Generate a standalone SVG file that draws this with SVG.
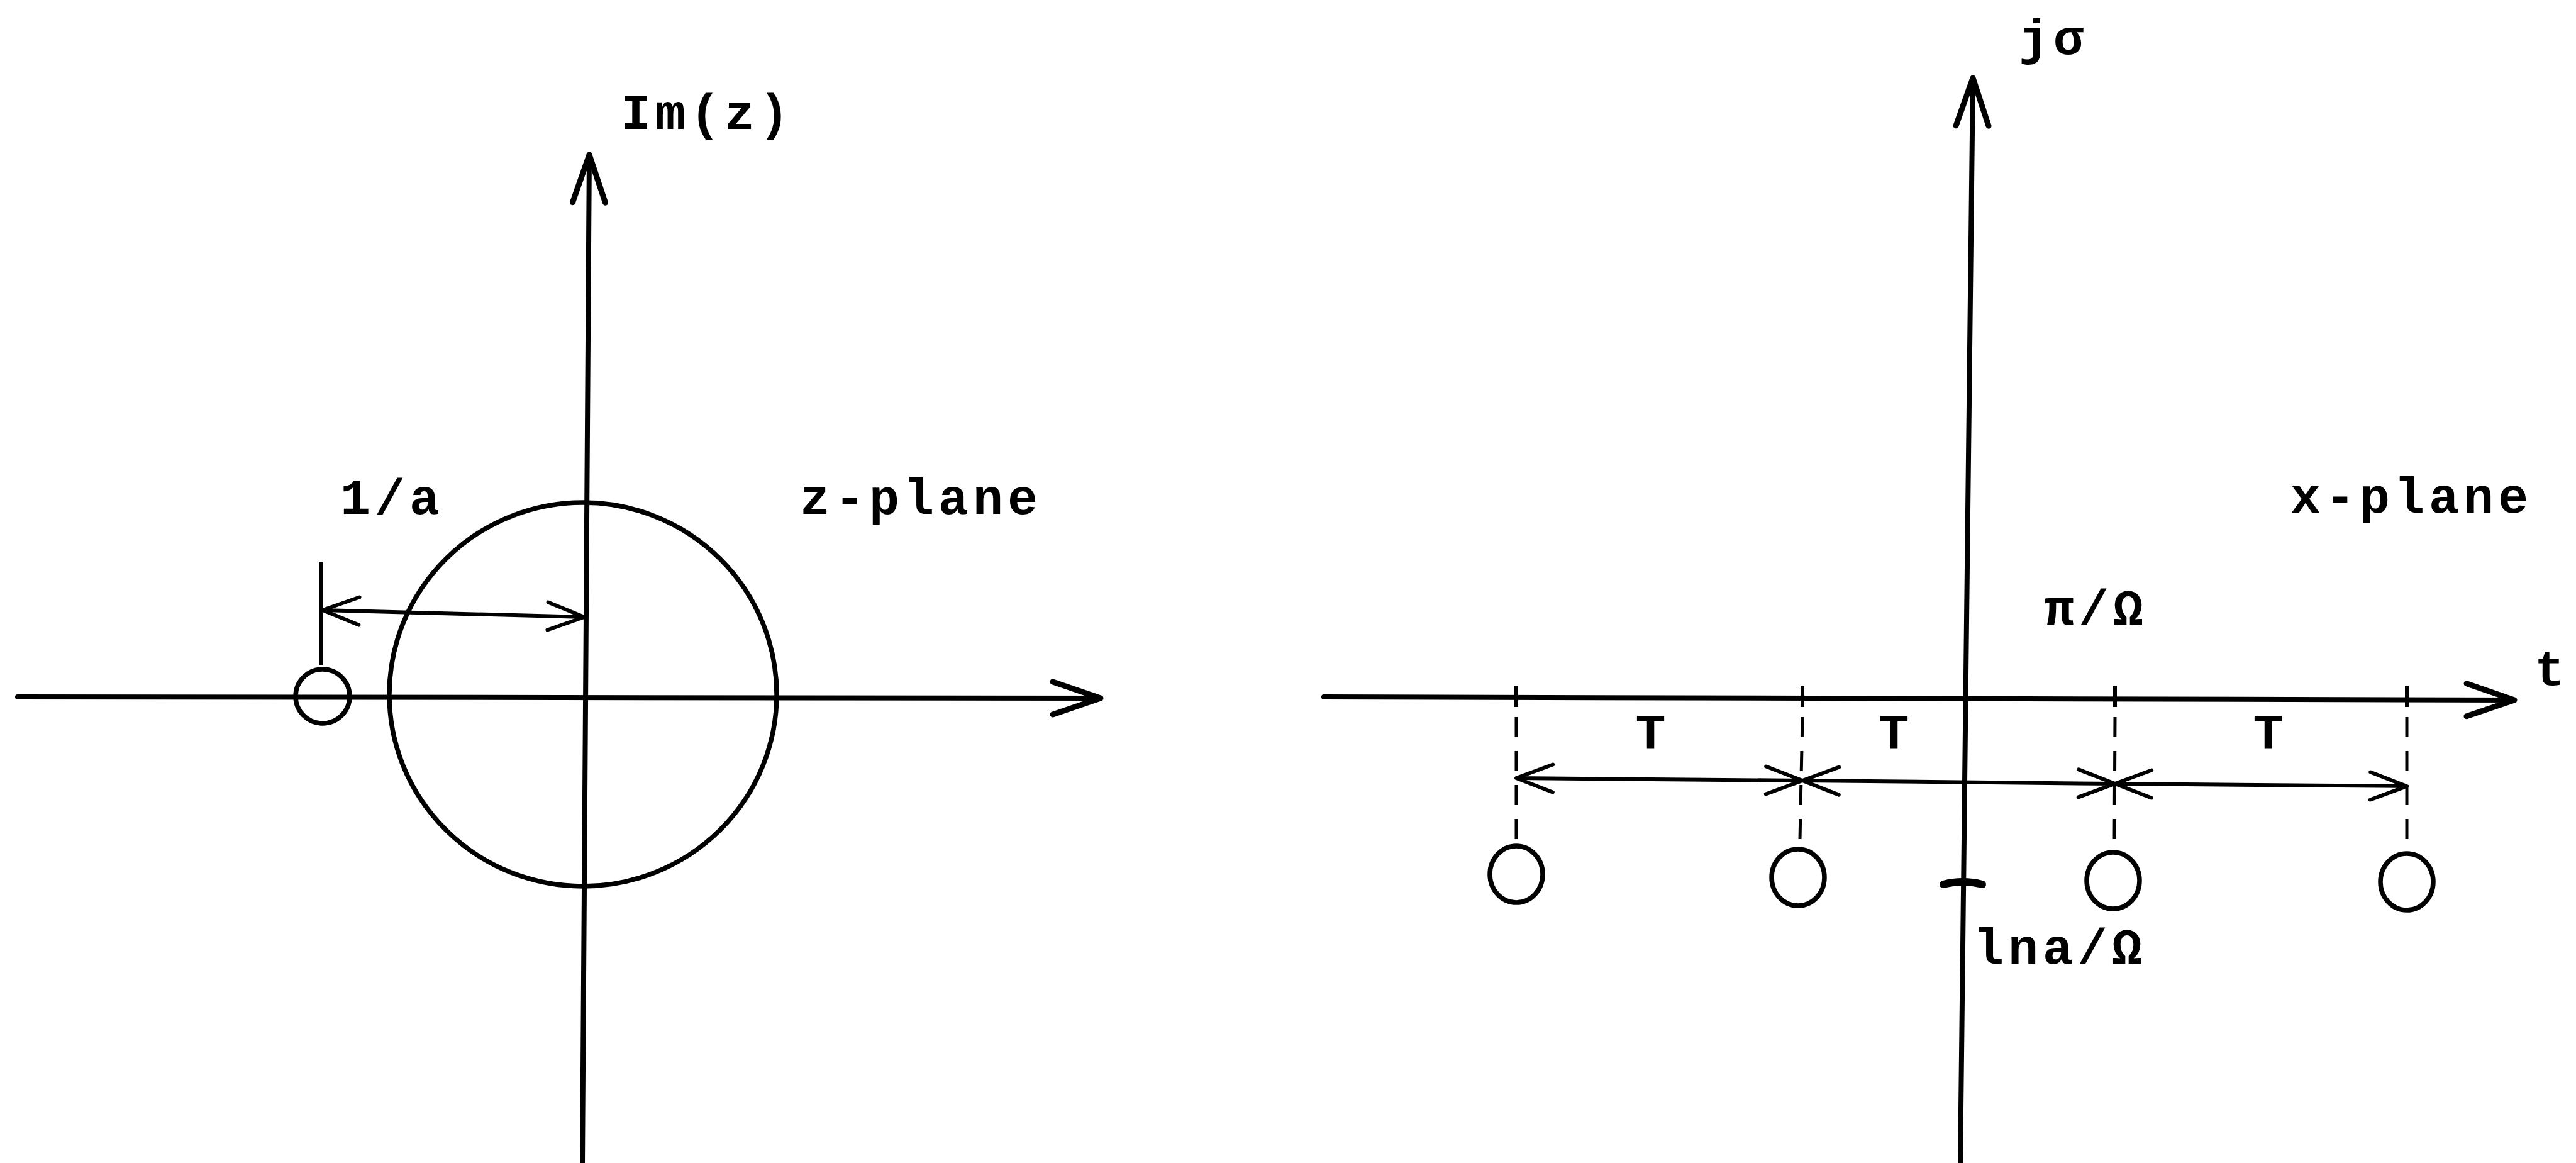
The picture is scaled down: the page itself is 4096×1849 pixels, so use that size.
<svg xmlns="http://www.w3.org/2000/svg" width="4096" height="1849" viewBox="0 0 4096 1849">
<style>
  .lbl { font-family: "Liberation Mono", "DejaVu Sans Mono", monospace; font-size: 80px; font-weight: bold; letter-spacing: 7px; fill: #000; }
  .axis { stroke: #000; stroke-width: 8; fill: none; stroke-linecap: round; }
  .dim { stroke: #000; stroke-width: 6; fill: none; }
  .dash { stroke: #000; stroke-width: 5; fill: none; stroke-dasharray: 32 22; }
  .ring { stroke: #000; stroke-width: 7.5; fill: none; }
</style>
<defs>
  <marker id="axisArrow" viewBox="-90 -40 100 80" refX="0" refY="0" markerWidth="100" markerHeight="80" markerUnits="userSpaceOnUse" orient="auto">
    <path d="M -76 -26 L 0 0 L -76 26" fill="none" stroke="#000" stroke-width="9" stroke-linecap="round" stroke-linejoin="round"/>
  </marker>
  <marker id="dimArrow" viewBox="-70 -35 80 70" refX="0" refY="0" markerWidth="80" markerHeight="70" markerUnits="userSpaceOnUse" orient="auto-start-reverse">
    <path d="M -58 -22 L 0 0 L -58 22" fill="none" stroke="#000" stroke-width="6" stroke-linecap="round" stroke-linejoin="round"/>
  </marker>
</defs>
<rect width="4096" height="1849" fill="#fff"/>

<g id="connectors">
  <!-- z-plane axes -->
  <line class="axis" x1="28" y1="1108" x2="1750" y2="1110" marker-end="url(#axisArrow)"/>
  <line class="axis" x1="926" y1="1849" x2="937" y2="246" marker-end="url(#axisArrow)"/>
  <!-- 1/a dimension -->
  <line class="dim" x1="510" y1="893" x2="510" y2="1058"/>
  <line class="dim" x1="513" y1="970" x2="929" y2="981" marker-start="url(#dimArrow)" marker-end="url(#dimArrow)"/>
  <!-- x-plane axes -->
  <line class="axis" x1="2105" y1="1108" x2="3998" y2="1113" marker-end="url(#axisArrow)"/>
  <line class="axis" x1="3117" y1="1849" x2="3137" y2="124" marker-end="url(#axisArrow)"/>
  <!-- ticks and dashed drops -->
  <line class="dim" x1="2411" y1="1090" x2="2411" y2="1124"/>
  <line class="dim" x1="2866" y1="1090" x2="2866" y2="1124"/>
  <line class="dim" x1="3363" y1="1090" x2="3363" y2="1124"/>
  <line class="dim" x1="3827" y1="1090" x2="3827" y2="1124"/>
  <line class="dash" x1="2411" y1="1140" x2="2411" y2="1335"/>
  <line class="dash" x1="2866" y1="1140" x2="2862" y2="1335"/>
  <line class="dash" x1="3363" y1="1140" x2="3362" y2="1340"/>
  <line class="dash" x1="3827" y1="1140" x2="3827" y2="1340"/>
  <!-- T dimension chain -->
  <line class="dim" x1="2411" y1="1237" x2="2866" y2="1241" marker-start="url(#dimArrow)" marker-end="url(#dimArrow)"/>
  <line class="dim" x1="2866" y1="1241" x2="3363" y2="1246" marker-start="url(#dimArrow)" marker-end="url(#dimArrow)"/>
  <line class="dim" x1="3363" y1="1246" x2="3827" y2="1250" marker-start="url(#dimArrow)" marker-end="url(#dimArrow)"/>
  <!-- ln a / Omega mark on j-sigma axis -->
  <path d="M 3090 1406 Q 3121 1398 3152 1406" stroke="#000" stroke-width="12" fill="none" stroke-linecap="round"/>
</g>

<g id="z-plane">
  <g id="unit-circle"><ellipse class="ring" cx="927" cy="1104" rx="308" ry="305"/></g>
  <g id="zero-z"><circle class="ring" cx="513" cy="1107" r="43"/></g>
  <g id="label-imz"><text class="lbl" x="987" y="205">Im(z)</text></g>
  <g id="label-1a"><text class="lbl" x="541" y="817">1/a</text></g>
  <g id="label-zplane"><text class="lbl" x="1272" y="817">z-plane</text></g>
</g>

<g id="x-plane">
  <g id="zero-1"><ellipse class="ring" cx="2411" cy="1390" rx="42" ry="45"/></g>
  <g id="zero-2"><ellipse class="ring" cx="2859" cy="1395" rx="42" ry="45"/></g>
  <g id="zero-3"><ellipse class="ring" cx="3360" cy="1400" rx="42" ry="45"/></g>
  <g id="zero-4"><ellipse class="ring" cx="3827" cy="1402" rx="42" ry="45"/></g>
  <g id="label-jsigma"><text class="lbl" x="3210" y="86">jσ</text></g>
  <g id="label-xplane"><text class="lbl" x="3642" y="815">x-plane</text></g>
  <g id="label-pi"><text class="lbl" x="3250" y="993">π/Ω</text></g>
  <g id="label-t"><text class="lbl" x="4030" y="1090">t</text></g>
  <g id="label-T1"><text class="lbl" x="2628" y="1191" text-anchor="middle">T</text></g>
  <g id="label-T2"><text class="lbl" x="3015" y="1191" text-anchor="middle">T</text></g>
  <g id="label-T3"><text class="lbl" x="3610" y="1191" text-anchor="middle">T</text></g>
  <g id="label-lna"><text class="lbl" x="3138" y="1532">lna/Ω</text></g>
</g>
</svg>
